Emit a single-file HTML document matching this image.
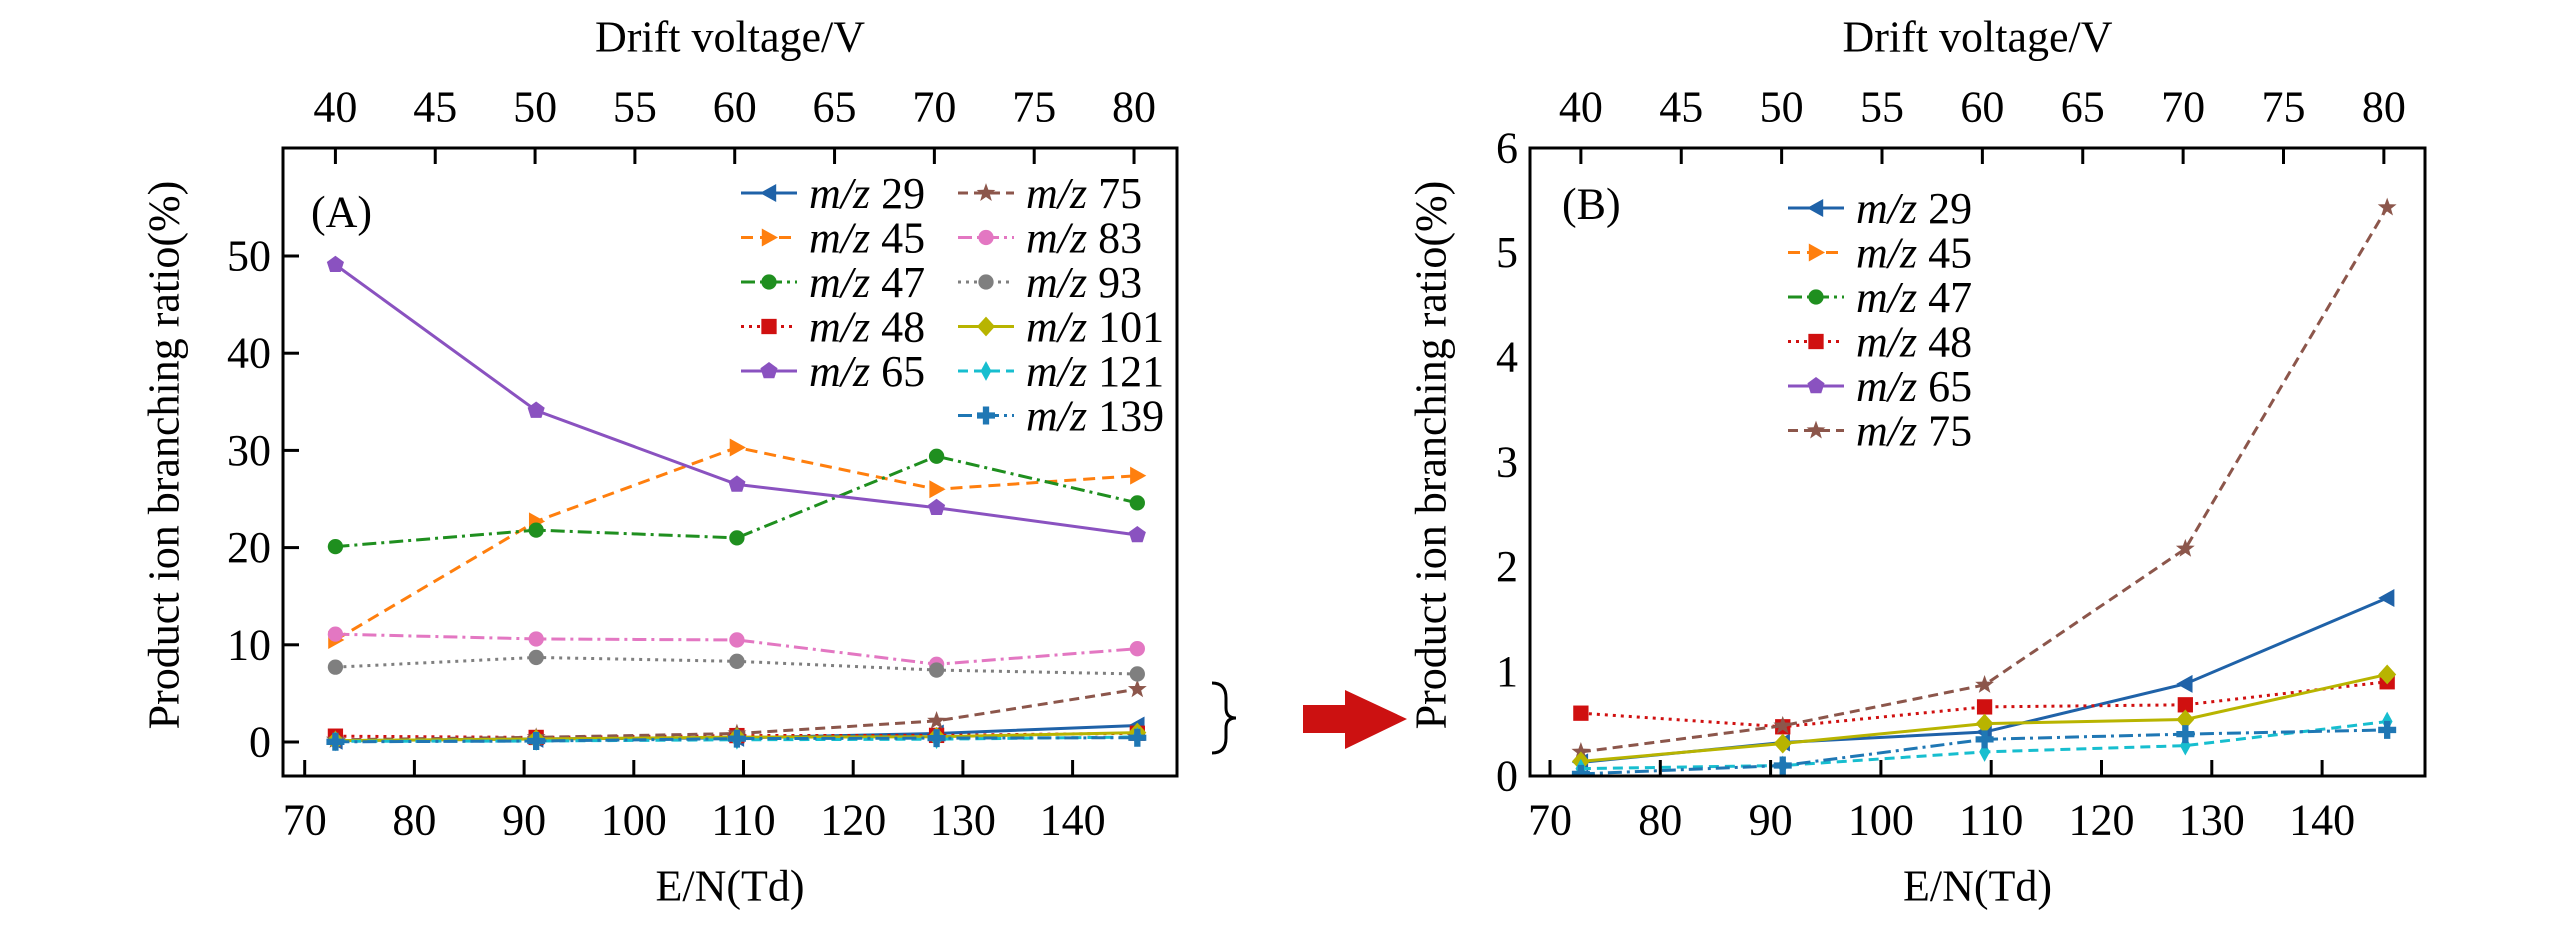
<!DOCTYPE html>
<html><head><meta charset="utf-8"><style>
body{margin:0;background:#fff}
svg{display:block}
svg text{font-family:"Liberation Serif","Times New Roman",serif}
</style></head><body>
<svg id="chart" width="2567" height="929" viewBox="0 0 2567 929" xmlns="http://www.w3.org/2000/svg" font-family="Liberation Serif, serif"></svg>
<script>
const voltages = [40, 50, 60, 70, 80];
const enTd = [72.8, 91.1, 109.4, 127.6, 145.9];
const mz29 = [0.13, 0.32, 0.42, 0.88, 1.70];
const mz45 = [10.5, 22.7, 30.3, 26.0, 27.4];
const mz47 = [20.1, 21.8, 21.0, 29.4, 24.6];
const mz48 = [0.60, 0.47, 0.66, 0.68, 0.90];
const mz65 = [49.1, 34.1, 26.5, 24.1, 21.3];
const mz75 = [0.23, 0.48, 0.87, 2.17, 5.43];
const mz83 = [11.1, 10.6, 10.5, 8.0, 9.6];
const mz93 = [7.7, 8.7, 8.3, 7.4, 7.0];
const mz101 = [0.14, 0.31, 0.50, 0.54, 0.97];
const mz121 = [0.07, 0.10, 0.23, 0.29, 0.52];
const mz139 = [0.02, 0.10, 0.35, 0.40, 0.44];
const bottomTicks = [70, 80, 90, 100, 110, 120, 130, 140];
const topTicks = [40, 45, 50, 55, 60, 65, 70, 75, 80];
const yTicksA = [0, 10, 20, 30, 40, 50];
const yTicksB = [0, 1, 2, 3, 4, 5, 6];
const tdPerVolt = 1.82;

const series = [
 {label:'29', data:mz29, color:'#1f62a8', dash:'', marker:'tril'},
 {label:'45', data:mz45, color:'#ff7f0e', dash:'12 7', marker:'trir'},
 {label:'47', data:mz47, color:'#1f8f1f', dash:'14 5 3 5', marker:'circle'},
 {label:'48', data:mz48, color:'#d01010', dash:'3 5', marker:'square'},
 {label:'65', data:mz65, color:'#8a52c0', dash:'', marker:'pent'},
 {label:'75', data:mz75, color:'#8c564b', dash:'10 6', marker:'star'},
 {label:'83', data:mz83, color:'#e377c2', dash:'14 5 3 5', marker:'circle'},
 {label:'93', data:mz93, color:'#7f7f7f', dash:'3 5', marker:'circle'},
 {label:'101', data:mz101, color:'#b8b400', dash:'', marker:'diamond'},
 {label:'121', data:mz121, color:'#17becf', dash:'10 6', marker:'thin'},
 {label:'139', data:mz139, color:'#1f77b4', dash:'14 5 3 5', marker:'plus'}
];

const NS='http://www.w3.org/2000/svg';
const svg=document.getElementById('chart');
function el(tag, attrs, parent){const e=document.createElementNS(NS,tag);for(const k in attrs)e.setAttribute(k,attrs[k]);(parent||svg).appendChild(e);return e;}

function markerPath(type,x,y,s){
 const r=s;
 switch(type){
  case 'tril': return `M${x-r},${y} L${x+r*0.8},${y-r} L${x+r*0.8},${y+r}Z`;
  case 'trir': return `M${x+r},${y} L${x-r*0.8},${y-r} L${x-r*0.8},${y+r}Z`;
  case 'square': return `M${x-r*0.85},${y-r*0.85}h${r*1.7}v${r*1.7}h${-r*1.7}Z`;
  case 'diamond': return `M${x},${y-r*1.1} L${x+r},${y} L${x},${y+r*1.1} L${x-r},${y}Z`;
  case 'thin': return `M${x},${y-r*1.1} L${x+r*0.6},${y} L${x},${y+r*1.1} L${x-r*0.6},${y}Z`;
  case 'plus': {const a=r*0.35;return `M${x-a},${y-r}h${2*a}v${r-a}h${r-a}v${2*a}h${a-r}v${r-a}h${-2*a}v${a-r}h${a-r}v${-2*a}h${r-a}Z`;}
  case 'pent': {let p='';for(let i=0;i<5;i++){const t=-Math.PI/2+i*2*Math.PI/5;p+=(i?'L':'M')+(x+r*Math.cos(t))+','+(y+r*Math.sin(t));}return p+'Z';}
  case 'star': {let p='';for(let i=0;i<10;i++){const rr=i%2?r*0.45:r*1.1;const t=-Math.PI/2+i*Math.PI/5;p+=(i?'L':'M')+(x+rr*Math.cos(t))+','+(y+rr*Math.sin(t));}return p+'Z';}
 }
 return '';
}
function drawMarker(type,x,y,color,g,s){
 if(type==='circle') return el('circle',{cx:x,cy:y,r:s*0.85,fill:color},g);
 return el('path',{d:markerPath(type,x,y,s),fill:color},g);
}
function txt(x,y,s,size,attrs,parent){const t=el('text',Object.assign({x:x,y:y,'font-size':size,'font-family':'Liberation Serif, serif','text-anchor':'middle','dominant-baseline':'central',fill:'#000'},attrs||{}),parent);t.textContent=s;return t;}

function panel(cfg){
 const g=el('g',{});
 
 
 const {L,R,T,B}=cfg;
 const xs=v=>cfg.x0+(v-70)*cfg.xk;
 const ys=v=>cfg.y0-v*cfg.yk;
 const clipId='clip'+cfg.id;
 const cp=el('clipPath',{id:clipId},g);
 el('rect',{x:L,y:T,width:R-L,height:B-T},cp);
 series.forEach(s=>{
  const sg=el('g',{'clip-path':`url(#${clipId})`},g);
  
  
  const pts=s.data.map((v,i)=>xs(enTd[i])+','+ys(v)).join(' ');
  const pl=el('polyline',{points:pts,fill:'none',stroke:s.color,'stroke-width':3,'stroke-dasharray':s.dash},sg);
  
  
  s.data.forEach((v,i)=>{
   const m=drawMarker(s.marker,xs(enTd[i]),ys(v),s.color,sg,9);
   
   
  });
 });
 const fr=el('rect',{x:L,y:T,width:R-L,height:B-T,fill:'none',stroke:'#000','stroke-width':3},g);
 
 
 bottomTicks.forEach(v=>{
  const x=xs(v);
  el('line',{x1:x,y1:B,x2:x,y2:B-16,stroke:'#000','stroke-width':3},g);
  const t=txt(x,820,String(v),44,{},g);
  
  
 });
 topTicks.forEach(v=>{
  const x=xs(v*tdPerVolt);
  el('line',{x1:x,y1:T,x2:x,y2:T+16,stroke:'#000','stroke-width':3},g);
  const t=txt(x,107,String(v),44,{},g);
  
  
 });
 cfg.yTicks.forEach(v=>{
  const y=ys(v);
  if(cfg.id==='A') el('line',{x1:L,y1:y,x2:L+16,y2:y,stroke:'#000','stroke-width':3},g);
  const t=txt(L-12,y,String(v),44,{'text-anchor':'end'},g);
  
  
 });
 const xt=txt((L+R)/2,886,'E/N(Td)',44,{},g);
 
 
 const tt=txt((L+R)/2,37,'Drift voltage/V',44,{},g);
 
 
 const yt=txt(cfg.ylx,455,'Product ion branching ratio(%)',44,{transform:`rotate(-90 ${cfg.ylx} 455)`},g);
 
 
 const pl=txt(cfg.plx,cfg.ply,cfg.plabel,44,{'text-anchor':'start'},g);
 
 
 cfg.legend.forEach(le=>{
  const s=series[le.i];
  const lg=el('g',{},g);
  
  
  el('line',{x1:le.x,y1:le.y,x2:le.x+56,y2:le.y,stroke:s.color,'stroke-width':3,'stroke-dasharray':s.dash},lg);
  drawMarker(s.marker,le.x+28,le.y,s.color,lg,9);
  const t=el('text',{x:le.x+68,y:le.y,'font-size':44,'font-family':'Liberation Serif, serif','dominant-baseline':'central',fill:'#000'},lg);
  const it=el('tspan',{'font-style':'italic'},t);it.textContent='m/z';
  const nt=el('tspan',{},t);nt.textContent=' '+s.label;
 });
}

const legA=[];
for(let i=0;i<5;i++) legA.push({i:i,x:741,y:193+i*44.5});
for(let i=5;i<11;i++) legA.push({i:i,x:958,y:193+(i-5)*44.5});
panel({id:'A',name:'panel-a',L:283,R:1177,T:148,B:776,x0:304.7,xk:10.97,y0:742,yk:9.72,yTicks:yTicksA,ylx:164,plx:311,ply:212,plabel:'(A)',legend:legA});
const legB=[];
for(let i=0;i<6;i++) legB.push({i:i,x:1788,y:208+i*44.5});
panel({id:'B',name:'panel-b',L:1530,R:2425,T:148,B:776,x0:1550,xk:11.03,y0:776,yk:104.7,yTicks:yTicksB,ylx:1431,plx:1562,ply:204,plabel:'(B)',legend:legB});

const br=el('path',{d:'M1212,683 Q1226,683 1226,698 L1226,708 Q1226,718 1236,718 Q1226,718 1226,728 L1226,738 Q1226,753 1212,753',fill:'none',stroke:'#000','stroke-width':3});


const ar=el('path',{d:'M1303,705 L1345,705 L1345,690 L1407,719 L1345,749 L1345,733 L1303,733Z',fill:'#cc1111'});


</script>
</body></html>
